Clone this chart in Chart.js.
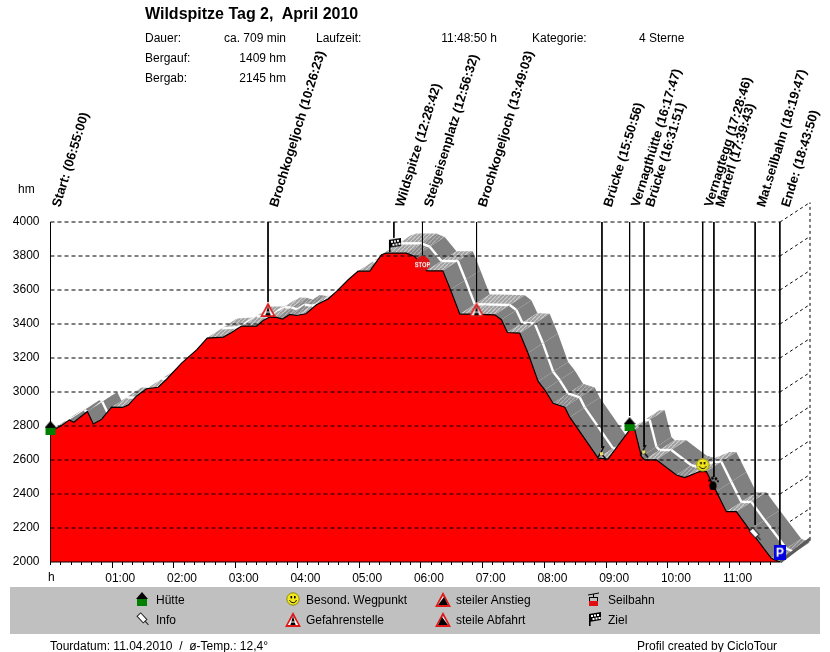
<!DOCTYPE html>
<html>
<head>
<meta charset="utf-8">
<title>Wildspitze Tag 2</title>
<script src="https://cdn.jsdelivr.net/npm/chart.js@4"></script>
<style>
	html, body { margin: 0; padding: 0; background: #fff; }
	#page { position: relative; width: 830px; height: 652px; overflow: hidden; font: 12px "Liberation Sans", Arial, sans-serif; color: #000; }
	#profile { position: absolute; left: 0; top: 0; }
	.t { position: absolute; white-space: pre; line-height: 14px; }
	.r { transform: translateX(-100%); }
	#band { position: absolute; left: 10px; top: 587px; width: 810px; height: 47px; background: #c0c0c0; }
	#page canvas.icon { position: absolute; }
</style>
</head>
<body>
<div id="page">
	<div id="band"></div>
	<canvas id="profile" width="830" height="652"></canvas>
</div>
<script>
// minutes since start / height in hm
const profileTimes = [0, 6, 10.8, 18.3, 22.8, 28.7, 35.8, 41.6, 49.7, 53.9, 59.4, 70, 75.6, 83.7, 93.4, 104.7, 112.8, 127.4, 142, 152.3, 167.9, 176, 185.7, 200.3, 206.7, 213.2, 219.7, 225.5, 232.6, 239.1, 248.2, 258.5, 269.9, 278, 289.3, 299, 310.3, 321.7, 326.5, 345.9, 354, 365.4, 381.3, 388.7, 397.8, 409, 431.8, 438.2, 444, 456, 464, 473.9, 480.3, 488.4, 499.8, 504.6, 532.2, 541.8, 562.9, 567.8, 574.3, 577.5, 588.8, 608.3, 616.3, 630.9, 637.4, 647.1, 656.8, 666.5, 679.5, 700.5, 708.8]
const profileHeights = [2773, 2787, 2803, 2836, 2822, 2852, 2885, 2812, 2840, 2871, 2911, 2909, 2924, 2977, 3019, 3028, 3075, 3170, 3248, 3317, 3323, 3350, 3388, 3388, 3421, 3441, 3439, 3429, 3456, 3450, 3460, 3513, 3547, 3592, 3660, 3711, 3711, 3808, 3817, 3817, 3797, 3713, 3713, 3601, 3458, 3458, 3454, 3425, 3350, 3346, 3229, 3062, 3013, 2934, 2911, 2852, 2611, 2605, 2777, 2777, 2620, 2601, 2601, 2512, 2497, 2532, 2532, 2414, 2296, 2296, 2189, 2022, 2000]

const markerTimes = [0, 211.4, 333.7, 361.5, 414.05, 535.9, 562.8, 576.85, 633.8, 644.7, 684.8, 708.8]
const markerLabels = ["Start: (06:55:00)", "Brochkogeljoch (10:26:23)", "Wildspitze (12:28:42)", "Steigeisenplatz (12:56:32)", "Brochkogeljoch (13:49:03)", "Brücke (15:50:56)", "Vernagthütte (16:17:47)", "Brücke (16:31:51)", "Vernagtegg (17:28:46)", "Marterl (17:39:43)", "Mat.seilbahn (18:19:47)", "Ende: (18:43:50)"]
const markerLineEnds = [2860, 3530, 3907, 3808, 3530, 2671, 2860, 2677, 2612, 2500, 2218, 2100]
const markerIcons = ["house", "warn", "flag", "stop", "warn", "walker", "house", "walker", "smiley", "paw", "pin", "park"]
const iconHeights = [2789, 3484, 3866, 3755, 3484, 2640, 2811, 2650, 2571, 2463, 2165, 2058]

const hourLabels = ["01:00", "02:00", "03:00", "04:00", "05:00", "06:00", "07:00", "08:00", "09:00", "10:00", "11:00"]
const heightTicks = [2000, 2200, 2400, 2600, 2800, 3000, 3200, 3400, 3600, 3800, 4000]

const depthMinutes = 29.1
const depthHeight = 115
const endTime = 709

function makeCanvas(w, h, draw) {
	let c = document.createElement("canvas")
	c.width = w
	c.height = h
	draw(c.getContext("2d"))
	return c
}

function hatch(base, stripe) {
	let tile = makeCanvas(4, 4, ctx => {
		ctx.fillStyle = base
		ctx.fillRect(0, 0, 4, 4)
		ctx.strokeStyle = stripe
		ctx.lineWidth = 1.1
		ctx.beginPath()
		ctx.moveTo(-1, 5)
		ctx.lineTo(5, -1)
		ctx.stroke()
	})
	return document.createElement("canvas").getContext("2d").createPattern(tile, "repeat")
}

function poly(ctx, pts, fill) {
	ctx.fillStyle = fill
	ctx.beginPath()
	pts.forEach((p, i) => i ? ctx.lineTo(p[0], p[1]) : ctx.moveTo(p[0], p[1]))
	ctx.closePath()
	ctx.fill()
}

function warnFrame(ctx) {
	poly(ctx, [[8, 0], [16, 15], [0, 15]], "#e01818")
	poly(ctx, [[8, 4], [13.2, 13], [2.8, 13]], "#fff")
}

const iconDraw = {
	house: ctx => {
		poly(ctx, [[6, 0], [12, 7], [0, 7]], "#000")
		ctx.fillStyle = "#008000"
		ctx.fillRect(1, 7, 10, 7)
	},
	warn: ctx => {
		warnFrame(ctx)
		poly(ctx, [[8, 4], [10.6, 13], [5.4, 13]], "#000")
		ctx.fillStyle = "#fff"
		ctx.fillRect(5, 9.5, 6, 1)
	},
	up: ctx => {
		warnFrame(ctx)
		poly(ctx, [[3, 13], [13, 13], [9, 5]], "#000")
	},
	down: ctx => {
		warnFrame(ctx)
		poly(ctx, [[3, 13], [13, 13], [7, 5]], "#000")
	},
	flag: ctx => {
		ctx.fillStyle = "#000"
		ctx.fillRect(2, 2, 1.6, 12)
		poly(ctx, [[2, 2], [14, 0], [14, 8], [2, 10]], "#000")
		ctx.fillStyle = "#fff"
		for (let i = 0; i < 3; i++) {
			ctx.fillRect(4 + i * 3, 3 - i * 0.5, 2, 2)
			ctx.fillRect(5.5 + i * 3, 6 - i * 0.5, 2, 2)
		}
	},
	stop: ctx => {
		ctx.fillStyle = "#e01010"
		ctx.beginPath()
		ctx.arc(7.5, 7.5, 7.5, 0, 7)
		ctx.fill()
		ctx.fillStyle = "#fff"
		ctx.font = "bold 8px 'Liberation Sans'"
		ctx.textAlign = "center"
		ctx.scale(0.72, 1)
		ctx.fillText("STOP", 10.4, 10.5)
	},
	walker: ctx => {
		ctx.strokeStyle = "#000"
		ctx.lineWidth = 1.4
		ctx.beginPath()
		ctx.moveTo(7, 0)
		ctx.lineTo(4, 6)
		ctx.lineTo(1, 11)
		ctx.moveTo(4, 7)
		ctx.lineTo(9, 13)
		ctx.stroke()
		ctx.fillStyle = "#f0e060"
		ctx.fillRect(3, 6, 3, 3)
	},
	smiley: ctx => {
		ctx.fillStyle = "#f4e81c"
		ctx.strokeStyle = "#8a8a10"
		ctx.beginPath()
		ctx.arc(7, 7, 6.2, 0, 7)
		ctx.fill()
		ctx.stroke()
		ctx.fillStyle = "#000"
		ctx.fillRect(4.5, 4, 1.6, 2.4)
		ctx.fillRect(8, 4, 1.6, 2.4)
		ctx.strokeStyle = "#000"
		ctx.beginPath()
		ctx.arc(7, 7, 3.6, 0.3, 2.8)
		ctx.stroke()
	},
	paw: ctx => {
		ctx.fillStyle = "#000"
		ctx.beginPath()
		ctx.ellipse(5, 9.5, 3.6, 4.5, 0, 0, 7)
		ctx.fill()
		ctx.beginPath()
		ctx.arc(1.5, 4, 1.3, 0, 7)
		ctx.fill()
		ctx.beginPath()
		ctx.arc(4.5, 2, 1.4, 0, 7)
		ctx.fill()
		ctx.beginPath()
		ctx.arc(8, 2.5, 1.4, 0, 7)
		ctx.fill()
		ctx.beginPath()
		ctx.arc(10, 5, 1.1, 0, 7)
		ctx.fill()
	},
	pin: ctx => {
		ctx.translate(7, 7)
		ctx.rotate(-0.75)
		ctx.fillStyle = "#fff"
		ctx.strokeStyle = "#222"
		ctx.fillRect(-2.5, -6, 5, 9)
		ctx.strokeRect(-2.5, -6, 5, 9)
		ctx.beginPath()
		ctx.moveTo(0, 3)
		ctx.lineTo(0, 8)
		ctx.stroke()
	},
	park: ctx => {
		ctx.fillStyle = "#0000e0"
		ctx.fillRect(0, 0, 12, 15)
		ctx.fillStyle = "#fff"
		ctx.font = "bold 12px 'Liberation Sans'"
		ctx.textAlign = "center"
		ctx.fillText("P", 6, 12)
	},
	gondola: ctx => {
		ctx.strokeStyle = "#000"
		ctx.beginPath()
		ctx.moveTo(1, 3)
		ctx.lineTo(12, 1)
		ctx.moveTo(6.5, 2)
		ctx.lineTo(6.5, 5)
		ctx.stroke()
		ctx.strokeRect(2.5, 5.5, 8, 4)
		ctx.fillStyle = "#e01010"
		ctx.fillRect(2, 9, 9, 5)
	},
}
const iconSizes = { house: [12, 14], warn: [16, 15], up: [16, 15], down: [16, 15], flag: [14, 14], stop: [15, 15], walker: [10, 14], smiley: [14, 14], paw: [12, 14], pin: [14, 14], park: [12, 15], gondola: [13, 14] }

function icon(name) {
	return makeCanvas(iconSizes[name][0], iconSizes[name][1], iconDraw[name])
}

const darkFace = "#808080"
const midFace = hatch("#8a8a8a", "#b0b0b0")
const flatFace = hatch("#a0a0a0", "#cfcfcf")
const riseFace = hatch("#a8a8a8", "#d8d8d8")

function faceColor(dt, dh) {
	let slope = (dh / 5.887) / (dt * 1.0295)
	if (slope < -0.45) return darkFace
	if (slope < -0.12) return midFace
	if (slope < 0.12) return flatFace
	return riseFace
}

function createRibbonDatasets() {
	let sets = []
	for (let i = 0; i < profileTimes.length - 1; i++) {
		let t0 = profileTimes[i], t1 = profileTimes[i + 1]
		let h0 = profileHeights[i], h1 = profileHeights[i + 1]
		let color = faceColor(t1 - t0, h1 - h0)
		sets.push({
			data: [{ x: t0, y: h0 }, { x: t1, y: h1 }, { x: t1 + depthMinutes, y: h1 + depthHeight }, { x: t0 + depthMinutes, y: h0 + depthHeight }, { x: t0, y: h0 }],
			fill: "shape",
			backgroundColor: color,
			borderWidth: 0,
			pointRadius: 0,
			clip: false,
		})
		sets.push({
			data: [{ x: t0 + depthMinutes / 2, y: h0 + depthHeight / 2 }, { x: t1 + depthMinutes / 2, y: h1 + depthHeight / 2 }],
			borderColor: "#fff",
			borderWidth: 2.4,
			pointRadius: 0,
			clip: false,
		})
	}
	return sets
}

function dashedLine(x0, y0, x1, y1, dash) {
	return { data: [{ x: x0, y: y0 }, { x: x1, y: y1 }], borderColor: "#000", borderWidth: 1, borderDash: dash, pointRadius: 0, clip: false }
}

function createWallDatasets() {
	let sets = []
	heightTicks.slice(1).forEach(h => {
		sets.push(dashedLine(endTime, h, endTime + depthMinutes, h + depthHeight, [3, 3]))
	})
	sets.push(dashedLine(endTime + depthMinutes, 2130, endTime + depthMinutes, 4000 + depthHeight, [3, 3]))
	return sets
}

function createGridDatasets() {
	return heightTicks.map(h => dashedLine(0, h, endTime, h, h === 2000 ? [] : [4, 3]))
}

function createMarkerLines() {
	let data = []
	markerTimes.forEach((t, i) => {
		data.push({ x: t, y: 4000 }, { x: t, y: markerLineEnds[i] }, { x: t, y: null })
	})
	return { data: data, borderColor: "#000", borderWidth: 1, pointRadius: 0, clip: false, spanGaps: false }
}

let datasets = [
	...createWallDatasets(),
	...createRibbonDatasets(),
	{
		data: [{ x: endTime, y: 2000 }, { x: endTime + depthMinutes, y: 2135 }],
		borderColor: "#5a5a5a", borderWidth: 3, pointRadius: 0, clip: false,
	},
	{
		data: profileTimes.map((t, i) => ({ x: t, y: profileHeights[i] })),
		fill: "start",
		backgroundColor: "#ff0000",
		borderColor: "#000",
		borderWidth: 1.2,
		pointRadius: 0,
	},
	...createGridDatasets(),
	createMarkerLines(),
	{
		data: markerTimes.map((t, i) => ({ x: t, y: iconHeights[i] })),
		showLine: false,
		pointRadius: 6,
		pointStyle: markerIcons.map(icon),
		clip: false,
	},
]
// lowest order is painted last, so keep the array order as paint order
datasets.forEach((d, i) => { d.order = -i })

new Chart(document.getElementById("profile"), {
	type: "line",
	data: { datasets: datasets },
	options: {
		responsive: false,
		animation: false,
		events: [],
		layout: { padding: { left: 0, right: 20, top: 0, bottom: 64 } },
		plugins: { legend: { display: false }, tooltip: { enabled: false } },
		scales: {
			y: {
				min: 2000,
				max: 4000,
				afterFit: s => { s.width = 50.5 },
				afterBuildTicks: s => { s.ticks = heightTicks.map(v => ({ value: v })) },
				border: { color: "#000" },
				grid: { drawOnChartArea: false, drawTicks: false },
				ticks: { padding: 11, color: "#000", font: { size: 12, family: "Liberation Sans" }, callback: v => String(v) },
			},
			x: {
				type: "linear",
				min: 0,
				max: endTime + depthMinutes,
				afterFit: s => { s.height = 26 },
				afterBuildTicks: s => { s.ticks = hourLabels.map((l, i) => ({ value: (i + 1) * 60 })) },
				border: { display: false },
				grid: { drawOnChartArea: false, color: "#000", tickLength: 6 },
				ticks: {
					autoSkip: false, maxRotation: 0, padding: 3, labelOffset: 8, color: "#000",
					font: { size: 12, family: "Liberation Sans" },
					callback: (v, i) => hourLabels[i],
				},
			},
			minutes: {
				type: "linear",
				axis: "x",
				position: "bottom",
				weight: -1,
				min: 0,
				max: endTime + depthMinutes,
				afterFit: s => { s.height = 0 },
				afterBuildTicks: s => { s.ticks = s.ticks.filter(t => t.value <= endTime) },
				border: { display: false },
				grid: { drawOnChartArea: false, color: "#000", tickLength: 3 },
				ticks: { display: false, stepSize: 10, includeBounds: false, autoSkip: false },
			},
			markers: {
				type: "linear",
				axis: "x",
				position: "top",
				min: 0,
				max: endTime + depthMinutes,
				afterFit: s => { s.height = 222 },
				afterBuildTicks: s => { s.ticks = markerTimes.map(v => ({ value: v })) },
				border: { display: false },
				grid: { display: false },
				ticks: {
					autoSkip: false, minRotation: 73, maxRotation: 73, padding: 5, labelOffset: 21, color: "#000",
					font: { size: 13, weight: "bold", family: "Liberation Sans" },
					callback: (v, i) => markerLabels[i],
				},
			},
		},
	},
})

// header, legend and footer texts
const headerTexts = [
	["Dauer:", 145, 31], ["Bergauf:", 145, 51], ["Bergab:", 145, 71],
	["Laufzeit:", 316, 31], ["Kategorie:", 532, 31], ["4 Sterne", 639, 31],
	["hm", 18, 182], ["h", 48, 570],
	["Tourdatum: 11.04.2010  /  ø-Temp.: 12,4°", 50, 639], ["Profil created by CicloTour", 637, 639],
	["Hütte", 156, 593], ["Info", 156, 613],
	["Besond. Wegpunkt", 306, 593], ["Gefahrenstelle", 306, 613],
	["steiler Anstieg", 456, 593], ["steile Abfahrt", 456, 613],
	["Seilbahn", 608, 593], ["Ziel", 608, 613],
]
const headerRight = [["ca. 709 min", 286, 31], ["1409 hm", 286, 51], ["2145 hm", 286, 71], ["11:48:50 h", 497, 31]]
const legendIcons = [["house", 136, 592], ["pin", 136, 612], ["smiley", 286, 592], ["warn", 285, 612], ["up", 435, 592], ["down", 435, 612], ["gondola", 587, 592], ["flag", 587, 612]]

function addText(text, x, y, right) {
	let el = document.createElement("div")
	el.className = right ? "t r" : "t"
	el.textContent = text
	el.style.left = x + "px"
	el.style.top = y + "px"
	document.getElementById("page").appendChild(el)
	return el
}

headerTexts.forEach(t => addText(t[0], t[1], t[2], false))
headerRight.forEach(t => addText(t[0], t[1], t[2], true))
let title = addText("Wildspitze Tag 2,  April 2010", 145, 6, false)
title.style.font = "bold 16px 'Liberation Sans'"
title.style.lineHeight = "16px"
legendIcons.forEach(l => {
	let c = icon(l[0])
	c.className = "icon"
	c.style.left = l[1] + "px"
	c.style.top = l[2] + "px"
	document.getElementById("page").appendChild(c)
})
</script>
</body>
</html>
